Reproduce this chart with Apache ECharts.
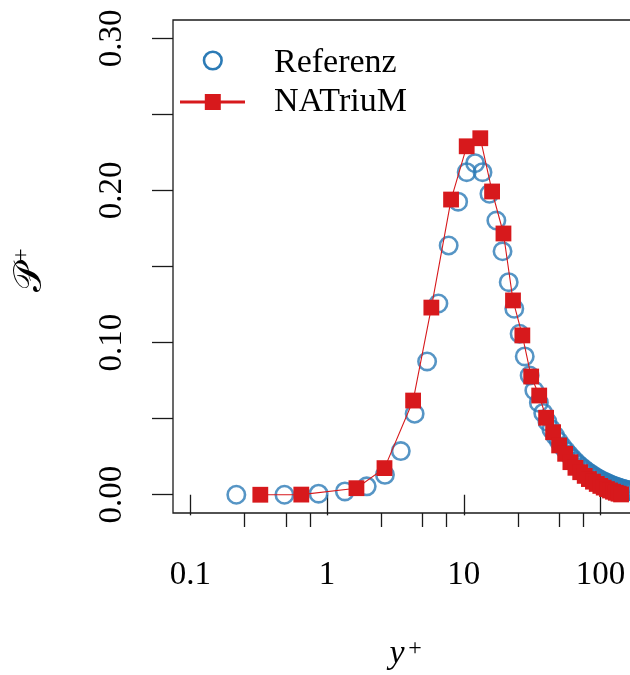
<!DOCTYPE html>
<html><head><meta charset="utf-8">
<script src="https://cdn.jsdelivr.net/npm/echarts@6/dist/echarts.min.js"></script>
<style>html,body{margin:0;padding:0;background:#fff}#c{width:630px;height:675px}</style>
</head><body><div id="c"></div>
<script>
// Referenz (DNS) data: y+ and P+
const refYplus = [0.217, 0.488, 0.867, 1.35, 1.95, 2.65, 3.46, 4.37, 5.39, 6.52, 7.75, 9.09, 10.5, 12.1, 13.7, 15.4, 17.3, 19.2, 21.3, 23.4, 25.6, 27.9, 30.3, 32.8, 35.4, 38.1, 40.9, 43.7, 46.6, 49.6, 52.7, 55.9, 59.1, 62.4, 65.8, 69.3, 72.8, 76.4, 80.0, 83.7, 87.5, 91.3, 95.1, 99.1, 103.0, 107.1, 111.1, 115.2, 119.4, 123.5, 127.7, 132.0, 136.3, 140.6, 144.9, 149.2, 153.6, 158.0, 162.3, 166.7, 171.2];
const refP = [0.0000, 0.0000, 0.0007, 0.0022, 0.0055, 0.0131, 0.0287, 0.0532, 0.0876, 0.1257, 0.1638, 0.1926, 0.2120, 0.2179, 0.2120, 0.1978, 0.1802, 0.1600, 0.1397, 0.1222, 0.1058, 0.0909, 0.0784, 0.0685, 0.0605, 0.0538, 0.0480, 0.0430, 0.0387, 0.0350, 0.0317, 0.0288, 0.0262, 0.0239, 0.0218, 0.0199, 0.0182, 0.0167, 0.0153, 0.0141, 0.0129, 0.0119, 0.0109, 0.0100, 0.0092, 0.0085, 0.0078, 0.0072, 0.0066, 0.0061, 0.0056, 0.0051, 0.0047, 0.0043, 0.0039, 0.0036, 0.0033, 0.0030, 0.0027, 0.0024, 0.0021];
// NATriuM data
const natYplus = [0.325, 0.648, 1.64, 2.63, 4.26, 5.79, 8.07, 10.5, 13.2, 16.1, 19.5, 22.9, 26.8, 31.1, 35.6, 40.0, 45.0, 49.8, 55.1, 60.2, 65.5, 71.0, 76.6, 82.2, 88.0, 93.8, 99.6, 105.5, 111.4, 117.3, 123.3, 129.3, 135.3, 141.3];
const natP = [0.0000, 0.0001, 0.0043, 0.0175, 0.0619, 0.1230, 0.1940, 0.2290, 0.2343, 0.1993, 0.1717, 0.1277, 0.1047, 0.0777, 0.0652, 0.0506, 0.0411, 0.0324, 0.0269, 0.0214, 0.0177, 0.0148, 0.0124, 0.0103, 0.0086, 0.0071, 0.0058, 0.0047, 0.0037, 0.0028, 0.0020, 0.0013, 0.0007, 0.0002];
// ticks
const xMajorTicks = [0.1, 1, 10, 100];
const xMinorTicks = [0.25, 0.5, 0.75, 2.5, 5, 7.5, 25, 50, 75];
const yTicks = [0, 0.05, 0.1, 0.15, 0.2, 0.25, 0.3];
const yLabels = [0, 0.1, 0.2, 0.3];
const seriesNames = ['Referenz', 'NATriuM'];

const BLUE = '#2c7bb6', RED = '#d7191c', INK = '#1a1a1a';
const FONT = '"Liberation Serif", "DejaVu Serif", serif';

const chart = echarts.init(document.getElementById('c'), null, {renderer: 'canvas'});
const toPairs = (xs, ys) => xs.map((x, i) => [x, ys[i]]);

const option = {
  animation: false,
  backgroundColor: '#fff',
  grid: {left: 173, top: 20, width: 469, height: 493, show: true, borderColor: INK, borderWidth: 1.3,
         backgroundColor: 'transparent', containLabel: false, outerBoundsMode: 'none'},
  xAxis: [
    {type: 'log', logBase: 10, min: 0.0747, max: 201, position: 'bottom', offset: 0,
     axisLine: {show: false}, splitLine: {show: false}, minorTick: {show: false},
     axisTick: {show: true, inside: false, length: 20.6, lineStyle: {color: INK, width: 1.3}, customValues: xMajorTicks},
     axisLabel: {show: true, customValues: xMajorTicks, margin: 45.5, fontFamily: FONT, fontSize: 33, color: '#000',
       formatter: v => String(+(+v).toPrecision(6))}},
    {type: 'log', logBase: 10, min: 0.0747, max: 201, position: 'bottom', offset: 0,
     axisLine: {show: false}, splitLine: {show: false}, axisLabel: {show: false},
     axisTick: {show: true, inside: false, length: 14, lineStyle: {color: INK, width: 1.3}, customValues: xMinorTicks}}
  ],
  yAxis: {type: 'value', min: -0.012, max: 0.312, position: 'left',
    axisLine: {show: false}, splitLine: {show: false},
    axisTick: {show: true, inside: false, length: 21, lineStyle: {color: INK, width: 1.3}, customValues: yTicks},
    axisLabel: {show: true, customValues: yLabels, rotate: 90, margin: 44, fontFamily: FONT, fontSize: 33, color: '#000',
      formatter: v => (+v).toFixed(2)}},
  series: [
    {name: seriesNames[0], type: 'scatter', xAxisIndex: 0, data: toPairs(refYplus, refP),
     symbol: 'circle', symbolSize: 17.4, itemStyle: {color: 'transparent', borderColor: BLUE, borderWidth: 2.6}, z: 2},
    {name: seriesNames[1], type: 'line', xAxisIndex: 0, data: toPairs(natYplus, natP),
     symbol: 'rect', symbolSize: 15.8, showSymbol: true, itemStyle: {color: RED},
     lineStyle: {color: RED, width: 1.1}, z: 3}
  ],
  graphic: [
    {type: 'circle', shape: {cx: 212.8, cy: 60.5, r: 8.8}, style: {fill: 'none', stroke: BLUE, lineWidth: 2.6}},
    {type: 'line', shape: {x1: 180, y1: 102, x2: 245, y2: 102}, style: {stroke: RED, lineWidth: 3.2}},
    {type: 'rect', shape: {x: 204.8, y: 94, width: 16, height: 16}, style: {fill: RED}},
    {type: 'text', x: 274, y: 63.5, style: {text: seriesNames[0], fontFamily: FONT, fontSize: 34, fill: '#000', verticalAlign: 'middle', align: 'left'}},
    {type: 'text', x: 274, y: 101.8, style: {text: seriesNames[1], fontFamily: FONT, fontSize: 34, fill: '#000', verticalAlign: 'middle', align: 'left'}},
    {type: 'text', x: 397, y: 654, style: {text: 'y', fontFamily: FONT, fontStyle: 'italic', fontSize: 34, fill: '#000', verticalAlign: 'middle', align: 'center'}},
    {type: 'text', x: 415, y: 649, style: {text: '+', fontFamily: FONT, fontSize: 24, fill: '#000', verticalAlign: 'middle', align: 'center'}},
    {type: 'text', x: 31, y: 278, rotation: Math.PI / 2, style: {text: '\u{1D4AB}', fontFamily: '"DejaVu Sans", "DejaVu Serif", serif', fontSize: 39, fill: '#000', verticalAlign: 'middle', align: 'center'}},
    {type: 'text', x: 22, y: 255, rotation: Math.PI / 2, style: {text: '+', fontFamily: FONT, fontSize: 24, fill: '#000', verticalAlign: 'middle', align: 'center'}}
  ]
};
chart.setOption(option);
</script>
</body></html>
